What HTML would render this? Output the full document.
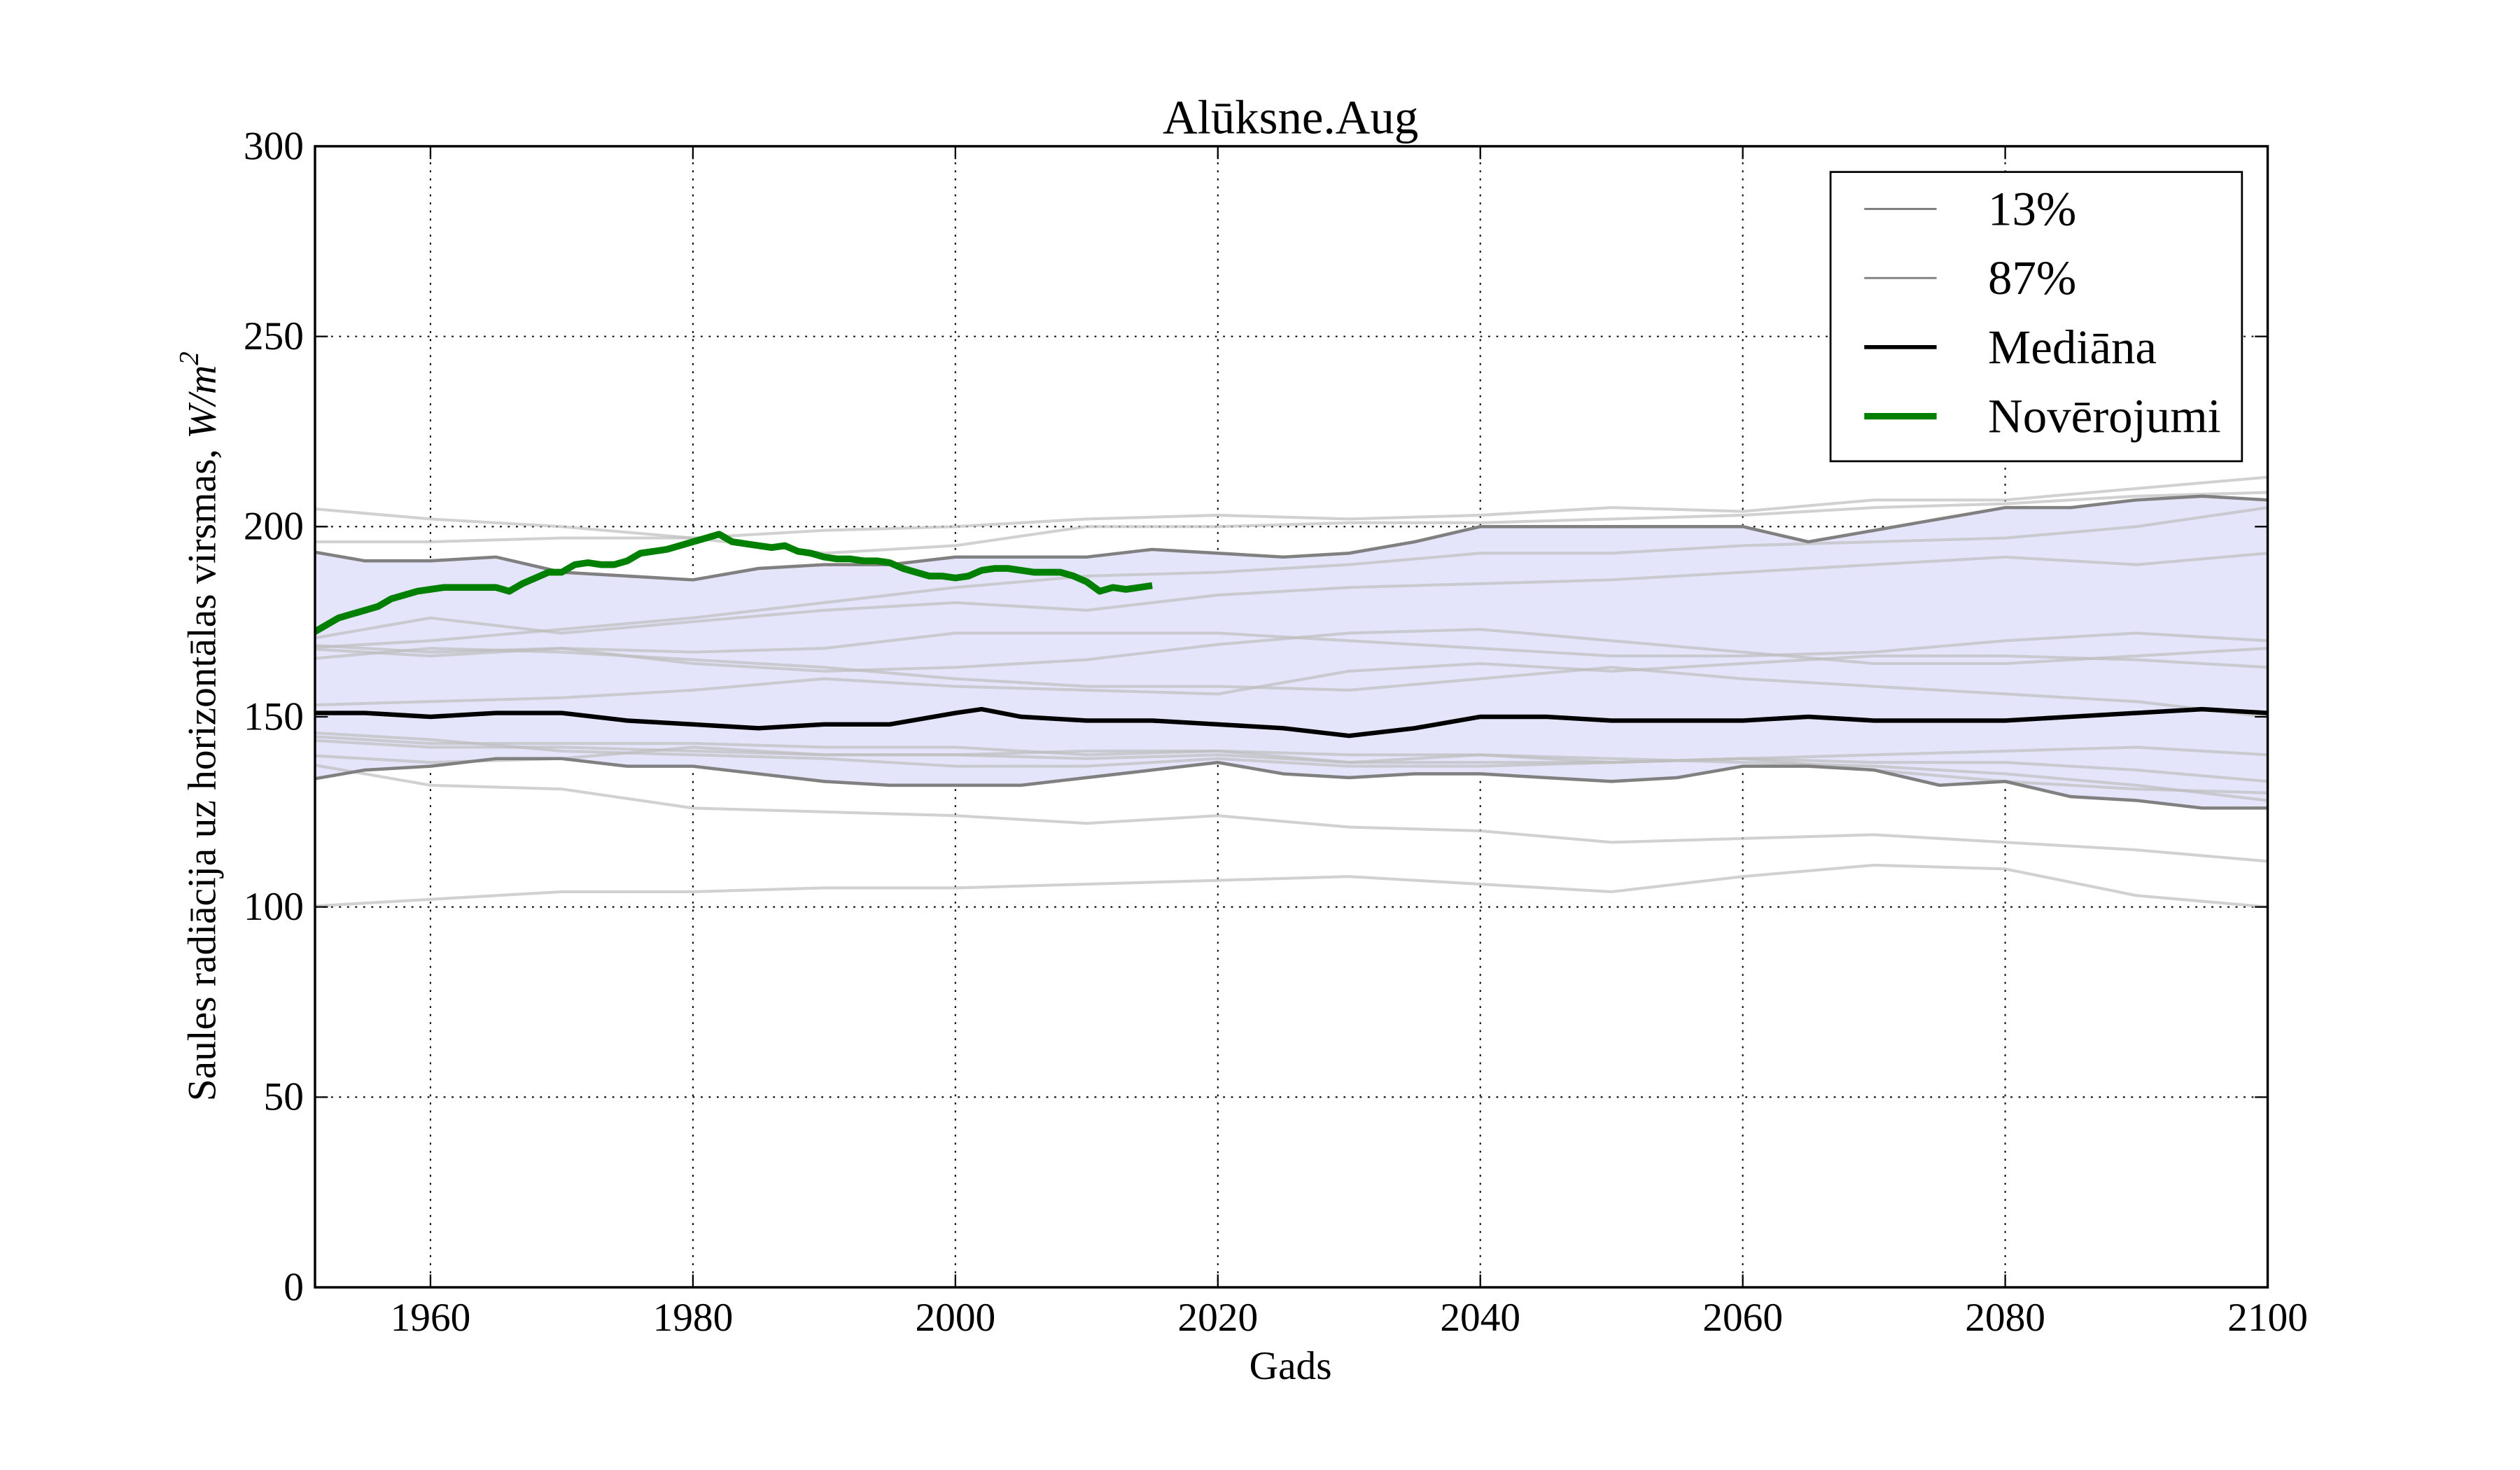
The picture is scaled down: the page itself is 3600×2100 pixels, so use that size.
<!DOCTYPE html>
<html><head><meta charset="utf-8"><style>html,body{margin:0;padding:0;background:#fff}svg{display:block}text{font-family:"Liberation Serif",serif}</style></head>
<body>
<svg id="chart" width="3600" height="2100" viewBox="0 0 1568 914.67" xmlns="http://www.w3.org/2000/svg">
<defs><clipPath id="pc"><rect x="196" y="91" width="1215" height="710"/></clipPath></defs>
<g id="grid"></g>
<g id="band" clip-path="url(#pc)"></g>
<g id="lines" clip-path="url(#pc)"></g>
<rect x="196" y="91" width="1215" height="710" fill="none" stroke="#000" stroke-width="1.5"/>
<g id="ticks"></g>
<text x="803" y="83" text-anchor="middle" font-size="30">Alūksne.Aug</text>
<text x="803" y="858" text-anchor="middle" font-size="25">Gads</text>
<text transform="translate(134,452) rotate(-90)" text-anchor="middle" font-size="25">Saules radiācija uz horizontālas virsmas, <tspan font-style="italic">W/m</tspan><tspan font-size="17" dy="-11" font-style="italic">2</tspan></text>
<g>
<rect x="1139" y="107" width="256" height="180" fill="#fff" stroke="#000" stroke-width="1.2"/>
<line x1="1160" y1="130" x2="1205" y2="130" stroke="#808080" stroke-width="1.3"/>
<text x="1237" y="140" font-size="30">13%</text>
<line x1="1160" y1="173" x2="1205" y2="173" stroke="#808080" stroke-width="1.3"/>
<text x="1237" y="183" font-size="30">87%</text>
<line x1="1160" y1="216" x2="1205" y2="216" stroke="#000" stroke-width="2.5"/>
<text x="1237" y="226" font-size="30">Mediāna</text>
<line x1="1160" y1="259" x2="1205" y2="259" stroke="#008000" stroke-width="4"/>
<text x="1237" y="269" font-size="30">Novērojumi</text>
</g>
</svg>
<script>
const xTicks = [1960,1980,2000,2020,2040,2060,2080,2100];
const yTicks = [0,50,100,150,200,250,300];
const decadeYears = [1950,1960,1970,1980,1990,2000,2010,2020,2030,2040,2050,2060,2070,2080,2090,2100];
const bandYears = [1950,1955,1960,1965,1970,1975,1980,1985,1990,1995,2000,2005,2010,2015,2020,2025,2030,2035,2040,2045,2050,2055,2060,2065,2070,2075,2080,2085,2090,2095,2100];
const upperBand = [194,191,191,192,188,187,186,189,190,190,192,192,192,194,193,192,193,196,200,200,200,200,200,196,199,202,205,205,207,208,207];
const lowerBand = [133,136,137,139,139,137,137,135,133,132,132,132,134,136,138,135,134,135,135,134,133,134,137,137,136,132,133,129,128,126,126];
const medianYears = [1950,1955,1960,1965,1970,1975,1980,1985,1990,1995,2000,2002,2005,2010,2015,2020,2025,2030,2035,2040,2045,2050,2055,2060,2065,2070,2075,2080,2085,2090,2095,2100];
const medianVals = [151,151,150,151,151,149,148,147,148,148,151,152,150,149,149,148,147,145,147,150,150,149,149,149,150,149,149,149,150,151,152,151];
const obsStart = 1950;
const obsVals = [171,172,174,176,177,178,179,181,182,183,183.5,184,184,184,184,184,183,185,186.5,188,188,190,190.5,190,190,191,193,193.5,194,195,196,197,198,196,195.5,195,194.5,195,193.5,193,192,191.5,191.5,191,191,190.5,189,188,187,187,186.5,187,188.5,189,189,188.5,188,188,188,187,185.5,183,184,183.5,184,184.5];
const lightA = [205,202,200,197,199,200,202,203,202,203,205,204,207,207,210,213];
const lightB = [196,196,197,197,193,195,200,200,201,201,202,203,205,206,208,209];
const lightC = [168,170,173,176,180,184,187,188,190,193,193,195,196,197,200,205];
const lightD = [170,176,172,175,178,180,178,182,184,185,186,188,190,192,190,193];
const lightE = [169,167,168,167,168,172,172,172,170,168,166,166,167,170,172,170];
const lightF = [168,166,168,164,162,163,165,169,172,173,170,167,164,164,166,168];
const lightG = [153,154,155,157,160,158,157,156,162,164,162,164,166,166,165,163];
const lightH = [165,168,167,165,163,160,158,158,157,160,163,160,158,156,154,150];
const lightI = [145,143,143,143,142,142,140,141,140,140,138,139,140,141,142,140];
const lightJ = [144,142,142,141,140,140,141,141,138,138,138,139,138,138,136,133];
const lightK = [146,144,141,140,139,137,137,139,137,137,138,139,136,133,131,130];
const lightL = [138,132,131,126,125,124,122,124,121,120,117,118,119,117,115,112];
const lightM = [100,102,104,104,105,105,106,107,108,106,104,108,111,110,103,100];
const lightN = [140,138,139,142,140,140,139,140,138,140,139,138,137,135,132,128];
const lightSeries = [lightA,lightB,lightC,lightD,lightE,lightF,lightG,lightH,lightI,lightJ,lightK,lightL,lightM,lightN];

const NS='http://www.w3.org/2000/svg';
const X0=196,X1=1411,Y0=801,Y1=91,XMIN=1951.2,XMAX=2100;
function sx(v){return X0+(v-XMIN)/(XMAX-XMIN)*(X1-X0);}
function sy(v){return Y0-v/300*(Y0-Y1);}
function mk(tag,attrs,parent){const e=document.createElementNS(NS,tag);for(const k in attrs)e.setAttribute(k,attrs[k]);parent.appendChild(e);return e;}
function pts(xs,ys){return xs.map((x,i)=>sx(x).toFixed(2)+','+sy(ys[i]).toFixed(2)).join(' ');}
const grid=document.getElementById('grid'),band=document.getElementById('band'),lines=document.getElementById('lines'),ticks=document.getElementById('ticks');
xTicks.forEach(t=>{
  const g=mk('line',{x1:sx(t),x2:sx(t),y1:Y1,y2:Y0,stroke:'#000','stroke-width':0.9,'stroke-dasharray':'1.2,3.8'},grid);
  
  
  const a=mk('line',{x1:sx(t),x2:sx(t),y1:Y0,y2:Y0-8,stroke:'#000','stroke-width':1},ticks);
  
  
  const b=mk('line',{x1:sx(t),x2:sx(t),y1:Y1,y2:Y1+8,stroke:'#000','stroke-width':1},ticks);
  
  
  const l=mk('text',{x:sx(t),y:Y0+27,'text-anchor':'middle','font-size':25},ticks);
  
  
  l.textContent=t;
});
yTicks.forEach(t=>{
  const g=mk('line',{x1:X0,x2:X1,y1:sy(t),y2:sy(t),stroke:'#000','stroke-width':0.9,'stroke-dasharray':'1.2,3.8'},grid);
  
  
  const a=mk('line',{x1:X0,x2:X0+8,y1:sy(t),y2:sy(t),stroke:'#000','stroke-width':1},ticks);
  
  
  const b=mk('line',{x1:X1,x2:X1-8,y1:sy(t),y2:sy(t),stroke:'#000','stroke-width':1},ticks);
  
  
  const l=mk('text',{x:X0-7,y:sy(t)+8,'text-anchor':'end','font-size':25},ticks);
  
  
  l.textContent=t;
});
const bandPts=pts(bandYears,upperBand)+' '+pts(bandYears.slice().reverse(),lowerBand.slice().reverse());
const bp=mk('polygon',{points:bandPts,fill:'#e4e4fb',stroke:'none'},band);


lightSeries.forEach(s=>{
  const p=mk('polyline',{points:pts(decadeYears,s),fill:'none',stroke:'#bdbdbd','stroke-opacity':0.7,'stroke-width':1.8},lines);
  
  
});
const up=mk('polyline',{points:pts(bandYears,upperBand),fill:'none',stroke:'#808080','stroke-width':2},lines);


const lo=mk('polyline',{points:pts(bandYears,lowerBand),fill:'none',stroke:'#808080','stroke-width':2},lines);


const md=mk('polyline',{points:pts(medianYears,medianVals),fill:'none',stroke:'#000','stroke-width':2.8},lines);


const obsYears=obsVals.map((v,i)=>obsStart+i);
const ob=mk('polyline',{points:pts(obsYears,obsVals),fill:'none',stroke:'#008000','stroke-width':4.2,'stroke-linejoin':'round'},lines);


</script>
</body></html>
